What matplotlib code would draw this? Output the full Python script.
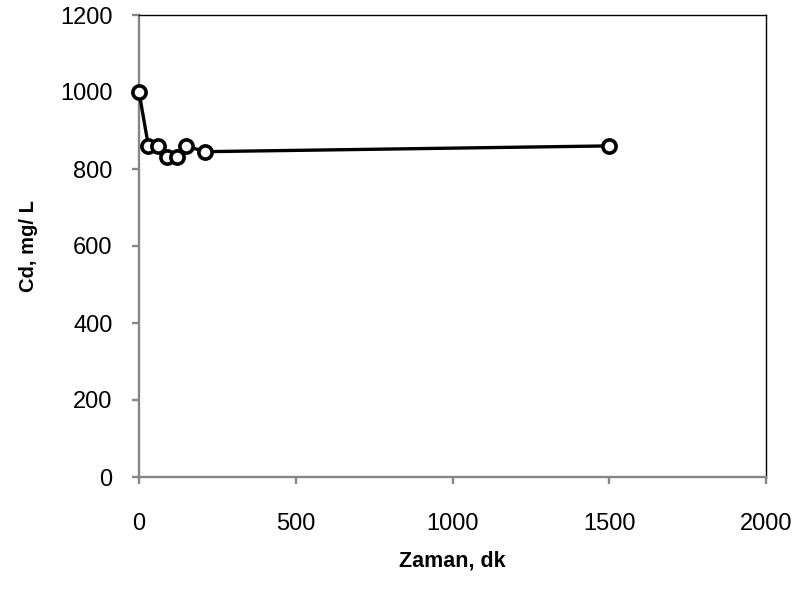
import matplotlib
matplotlib.use('Agg')
from matplotlib import pyplot as plt

# values
zaman = [0, 30, 60, 90, 120, 150, 210, 1500]
cd = [1000, 860, 860, 830, 830, 860, 845, 860]
x_ticks = [0, 500, 1000, 1500, 2000]
y_ticks = [0, 200, 400, 600, 800, 1000, 1200]

plt.rcParams['font.family'] = ['Liberation Sans', 'DejaVu Sans']

fig = plt.figure(figsize=(7.95, 5.94), dpi=100)
# plot area: x 139..766 px, y 15..477 px
ax = fig.add_axes([139 / 795, 1 - 477 / 594, (766 - 139) / 795, (477 - 15) / 594])

ax.plot(zaman, cd, color='black', lw=2.4, marker='o', ms=9.5,
        markerfacecolor='white', markeredgecolor='black', markeredgewidth=2.6,
        clip_on=False, zorder=3)

ax.set_xlim(0, 2000)
ax.set_ylim(0, 1200)
ax.set_xticks(x_ticks)
ax.set_yticks(y_ticks)

for s in ['left', 'bottom']:
    ax.spines[s].set_color('#868686')
    ax.spines[s].set_linewidth(1.7)
for s in ['top', 'right']:
    ax.spines[s].set_color('black')
    ax.spines[s].set_linewidth(1.0)

ax.tick_params(axis='both', direction='out', length=5, width=1.7, color='#868686',
               labelsize=17)
ax.tick_params(axis='y', pad=14)
ax.tick_params(axis='x', pad=21)

ax.set_xlabel('Zaman, dk', fontsize=15.5, fontweight='bold', labelpad=11)
ax.set_ylabel('Cd, mg/ L', fontsize=14.5, fontweight='bold', labelpad=16)

fig.savefig('out.png', dpi=100)
